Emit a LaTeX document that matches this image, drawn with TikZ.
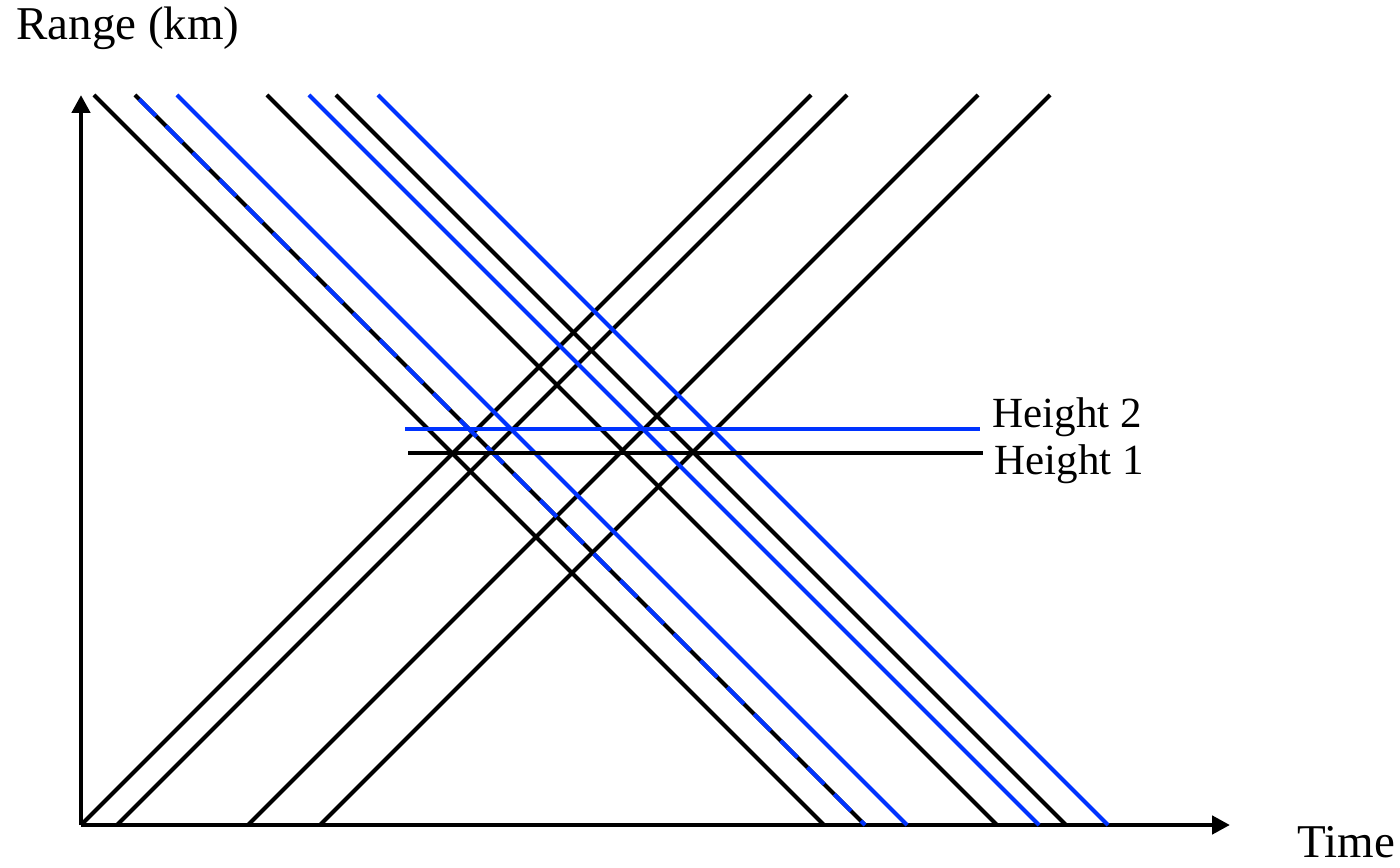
\documentclass[tikz,border=0pt]{standalone}
\usepackage{fontspec}
\setmainfont{Liberation Serif}
\usetikzlibrary{arrows.meta,positioning}
\definecolor{rayblue}{RGB}{0,51,255}

\begin{document}
\begin{tikzpicture}[x=50pt,y=50pt,
  axis/.style={line width=2.3pt,-{Triangle[length=9pt,width=9pt]}},
  ray/.style={line width=2.1pt},
  lbl/.style={font=\fontsize{21.5}{26}\selectfont,anchor=base west,inner sep=0pt},
  big/.style={font=\fontsize{23.5}{28}\selectfont}]
  \useasboundingbox (-0.81,-0.42) rectangle (13.19,8.25);
  \coordinate (o) at (0,0);
  \draw[axis] (o) -- (11.49,0) coordinate (tend);
  \draw[axis] (o) -- (0,7.30) coordinate (rend);
  \node[lbl,big] (range) at (-0.65,7.85) {Range (km)};
  \node[lbl,big] (time) at (12.16,-0.32) {Time};
  % up-going
  \foreach \s in {0,0.36,1.67,2.39}
    \draw[ray] (\s,0) -- ++(7.3,7.3);
  % down-going
  \foreach \s in {7.43,9.16,9.85}
    \draw[ray] (\s-7.3,7.3) -- (\s,0);
  \foreach \s in {8.26,9.58,10.27}
    \draw[ray,rayblue] (\s-7.3,7.3) -- (\s,0);
  \draw[ray] (0.54,7.3) -- (7.84,0);
  \draw[ray,rayblue,dash pattern=on 11.8pt off 7.1pt,dash phase=15.9pt] (0.54,7.3) -- (7.84,0);
  % heights
  \draw[ray,rayblue] (3.24,3.96) -- (8.99,3.96) coordinate (h2end);
  \draw[ray] (3.27,3.72) -- (9.02,3.72) coordinate (h1end);
  \node[lbl] (h2) at (9.11,3.97) {Height 2};
  \node[lbl] (h1) at (9.13,3.50) {Height 1};
\end{tikzpicture}
\end{document}
